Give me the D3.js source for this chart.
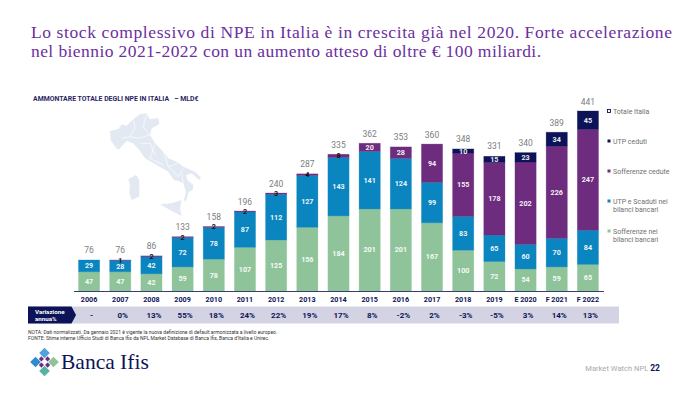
<!DOCTYPE html>
<html>
<head>
<meta charset="utf-8">
<script src="https://cdn.jsdelivr.net/npm/d3@7"></script>
<style>
	html, body {margin: 0; padding: 0; background: #fff;}
	svg {display: block;}
	text {font-family: Roboto, sans-serif;}
</style>
</head>
<body>
<div id="chart"></div>
<script>
//Data
var years = ['2006','2007','2008','2009','2010','2011','2012','2013','2014','2015','2016','2017','2018','2019','E 2020','F 2021','F 2022'];
var sofferenzeBilanci = [47,47,42,59,78,107,125,156,184,201,201,167,100,72,54,59,65];
var utpBilanci = [29,28,42,72,78,87,112,127,143,141,124,99,83,65,60,70,84];
var sofferenzeCedute = [0,1,2,2,2,2,3,4,8,20,28,94,155,178,202,226,247];
var utpCeduti = [0,0,0,0,0,0,0,0,0,0,0,0,10,15,23,34,45];
var totali = [76,76,86,133,158,196,240,287,335,362,353,360,348,331,340,389,441];
var variazione = ['-','0%','13%','55%','18%','24%','22%','19%','17%','8%','-2%','2%','-3%','-5%','3%','14%','13%'];

var seriesKeys = ['sofferenzeBilanci','utpBilanci','sofferenzeCedute','utpCeduti'];
var seriesValues = [sofferenzeBilanci,utpBilanci,sofferenzeCedute,utpCeduti];
var seriesColors = ['#8fc49b','#0a85bf','#6e2c7e','#0c1358'];

var NAVY = '#0c1358';
var GREY = '#7d7d7d';

var svg = d3.select('#chart').append('svg')
	.attr('width',700)
	.attr('height',400);

//Title (stretched to the widths of the two lines in the slide)
var titleLines = [
	{text: 'Lo stock complessivo di NPE in Italia è in crescita già nel 2020. Forte accelerazione', width: 641},
	{text: 'nel biennio 2021-2022 con un aumento atteso di oltre € 100 miliardi.', width: 510}
];
svg.selectAll('text.title')
	.data(titleLines)
	.enter().append('text')
		.attr('class','title')
		.attr('x',31)
		.attr('y',function(d,i){return 37.5+i*19.5;})
		.attr('textLength',function(d){return d.width;})
		.attr('lengthAdjust','spacing')
		.style('font-family','"Liberation Serif", serif')
		.style('font-size','17.5px')
		.attr('fill','#6b2fa0')
		.text(function(d){return d.text;});

svg.append('text')
	.attr('x',33)
	.attr('y',100.5)
	.style('font-size','6.9px')
	.style('font-weight','700')
	.style('white-space','pre')
	.attr('fill','#2b1f63')
	.text('AMMONTARE TOTALE DEGLI NPE IN ITALIA   – MLD€');

//Background map of Italy (decorative, traced by eye)
var map = svg.append('g')
	.attr('transform','translate(100,105) scale(0.3333)')
	.attr('fill','#e3e9f2');
map.append('path').attr('d','M30,78 L55,72 L65,58 L80,62 L100,42 L120,28 L140,25 L148,42 L175,40 L178,55 L170,62 L155,70 L150,90 L165,115 L190,140 L205,160 L230,170 L250,185 L285,200 L303,218 L298,225 L275,205 L258,210 L262,225 L280,240 L278,255 L265,262 L258,290 L252,285 L258,260 L250,235 L235,228 L222,225 L205,200 L170,180 L135,160 L118,135 L100,115 L80,108 L55,135 L45,125 L32,105 Z');
map.append('path').attr('d','M85,222 L108,210 L118,225 L118,275 L95,285 L88,265 L90,240 Z');
map.append('path').attr('d','M180,298 L215,295 L245,285 L240,310 L245,333 L215,318 Z');
map.append('path')
	.attr('d','M65,100 L90,95 L115,100 L150,90 M100,42 L105,70 L90,95 M140,25 L130,65 L150,90 M118,115 L150,115 L165,150 M165,115 L150,160 L190,180 M190,140 L205,185 L235,175 M205,185 L235,215 L250,190 M250,235 L245,205')
	.attr('fill','none')
	.attr('stroke','#f5f7fb')
	.attr('stroke-width',3);

//Scales
var baseline = 291;
var x = d3.scaleBand()
	.domain(years)
	.range([73.5,603.5])
	.paddingInner(0.32)
	.paddingOuter(0.16);
var y = d3.scaleLinear()
	.domain([0,441])
	.range([baseline,111]);

//Stacked bars
var rows = years.map(function(d,i) {
	var row = {year: d};
	seriesKeys.forEach(function(k,j){row[k] = seriesValues[j][i];});
	return row;
});
var stacked = d3.stack().keys(seriesKeys)(rows);

var layers = svg.selectAll('g.layer')
	.data(stacked)
	.enter().append('g')
		.attr('class','layer');
layers.selectAll('rect')
	.data(function(d){return d.map(function(p){return {p: p, key: d.key, index: d.index};});})
	.enter().filter(function(d){return d.p[1] > d.p[0];}).append('rect')
		.attr('x',function(d){return x(d.p.data.year);})
		.attr('y',function(d){return y(d.p[1]);})
		.attr('width',x.bandwidth())
		.attr('height',function(d){return y(d.p[0])-y(d.p[1]);})
		.attr('fill',function(d){return seriesColors[d.index];})
		.attr('stroke',function(d){return seriesColors[d.index];})
		.attr('stroke-opacity',0.4)
		.attr('stroke-width',0.7);

//Segment labels: tiny segments get a black label, the rest white
layers.selectAll('text')
	.data(function(d){return d.map(function(p){return {p: p, key: d.key};});})
	.enter().filter(function(d){return d.p[1] > d.p[0];}).append('text')
		.attr('x',function(d){return x(d.p.data.year)+x.bandwidth()/2;})
		.attr('y',function(d){return (y(d.p[0])+y(d.p[1]))/2+2.5;})
		.attr('text-anchor','middle')
		.style('font-size','7.2px')
		.style('font-weight','700')
		.attr('fill',function(d){return (d.p[1]-d.p[0]) < 10 ? '#111' : '#fff';})
		.attr('opacity',function(d){return (d.p[1]-d.p[0]) < 10 ? 1 : 0.92;})
		.text(function(d){return d.p[1]-d.p[0];});

//Totals
svg.selectAll('text.total')
	.data(totali)
	.enter().append('text')
		.attr('class','total')
		.attr('x',function(d,i){return x(years[i])+x.bandwidth()/2;})
		.attr('y',function(d){return y(d)-6.5;})
		.attr('text-anchor','middle')
		.style('font-size','8.5px')
		.attr('fill',GREY)
		.text(function(d){return d;});

//Axis
var axis = svg.append('g')
	.attr('transform','translate(0,'+baseline+')')
	.call(d3.axisBottom(x).tickSize(0).tickPadding(6));
axis.select('.domain').attr('stroke','#3a3f73').attr('stroke-width',1);
axis.selectAll('text')
	.style('font-family','Roboto, sans-serif')
	.style('font-size','7.2px')
	.style('font-weight','700')
	.attr('fill',NAVY);

//Variazione band
svg.append('rect')
	.attr('x',28)
	.attr('y',306.5)
	.attr('width',591)
	.attr('height',17)
	.attr('fill','#d3d3e3');
svg.append('path')
	.attr('d','M28,306.5 L71.5,306.5 L76,315 L71.5,323.5 L28,323.5 Z')
	.attr('fill',NAVY);
svg.selectAll('text.varLabel')
	.data(['Variazione','annua%'])
	.enter().append('text')
		.attr('class','varLabel')
		.attr('x',35)
		.attr('y',function(d,i){return 314+i*7;})
		.style('font-size','6.2px')
		.style('font-weight','700')
		.attr('fill','#fff')
		.text(function(d){return d;});
svg.selectAll('text.variazione')
	.data(variazione)
	.enter().append('text')
		.attr('class','variazione')
		.attr('x',function(d,i){return x(years[i])+x.bandwidth()/2+2.5;})
		.attr('y',317.7)
		.attr('text-anchor','middle')
		.style('font-size','8px')
		.style('font-weight','700')
		.attr('fill',NAVY)
		.text(function(d){return d;});

//Notes
svg.selectAll('text.note')
	.data([
		'NOTA: Dati normalizzati. Da gennaio 2021 è vigente la nuova definizione di default armonizzata a livello europeo.',
		'FONTE: Stime interne Ufficio Studi di Banca Ifis da NPL Market Database di Banca Ifis, Banca d\'Italia e Unirec.'
	])
	.enter().append('text')
		.attr('class','note')
		.attr('x',28)
		.attr('y',function(d,i){return 334.4+i*5.8;})
		.style('font-size','5px')
		.attr('fill','#333')
		.text(function(d){return d;});

//Legend
var legendItems = [
	{lines: ['Totale Italia'], y: 111, color: '#fff', stroke: NAVY},
	{lines: ['UTP ceduti'], y: 141, color: seriesColors[3]},
	{lines: ['Sofferenze cedute'], y: 171, color: seriesColors[2]},
	{lines: ['UTP e Scaduti nei','bilanci bancari'], y: 201, color: seriesColors[1]},
	{lines: ['Sofferenze nei','bilanci bancari'], y: 231, color: seriesColors[0]}
];
var legend = svg.selectAll('g.legend')
	.data(legendItems)
	.enter().append('g')
		.attr('class','legend')
		.attr('transform',function(d){return 'translate(607.5,'+d.y+')';});
legend.append('rect')
	.attr('x',0)
	.attr('y',-1.5)
	.attr('width',3)
	.attr('height',3)
	.attr('fill',function(d){return d.color;})
	.attr('stroke',function(d){return d.stroke || 'none';})
	.attr('stroke-width',0.9);
legend.selectAll('text')
	.data(function(d){return d.lines;})
	.enter().append('text')
		.attr('x',5.5)
		.attr('y',function(d,i){return 2.5+i*8;})
		.style('font-size','7px')
		.attr('fill','#6f6f6f')
		.text(function(d){return d;});

//Logo
var logo = svg.append('g').attr('transform','translate(44.5,362)');
var logoTiles = [
	{dx: 0, dy: -9, s: 7.5, c: '#4ea3dc'},
	{dx: -9, dy: 0, s: 7.5, c: '#2f8ccb'},
	{dx: 9, dy: 0, s: 7.5, c: '#8fc49b'},
	{dx: 0, dy: 9, s: 7.5, c: '#56b3a3'},
	{dx: -3.1, dy: -3.1, s: 3.6, c: '#6e2c7e'},
	{dx: 3.1, dy: -3.1, s: 3.6, c: '#6e2c7e'},
	{dx: -3.1, dy: 3.1, s: 3.6, c: '#6e2c7e'},
	{dx: 3.1, dy: 3.1, s: 3.6, c: '#6e2c7e'}
];
logo.selectAll('rect')
	.data(logoTiles)
	.enter().append('rect')
		.attr('x',function(d){return -d.s/2;})
		.attr('y',function(d){return -d.s/2;})
		.attr('width',function(d){return d.s;})
		.attr('height',function(d){return d.s;})
		.attr('fill',function(d){return d.c;})
		.attr('transform',function(d){return 'translate('+d.dx+','+d.dy+') rotate(45)';});
svg.append('text')
	.attr('x',61)
	.attr('y',368.5)
	.style('font-family','"Liberation Serif", serif')
	.style('font-size','21.5px')
	.attr('fill',NAVY)
	.text('Banca Ifis');

//Footer
var footer = svg.append('text')
	.attr('x',660)
	.attr('y',370.5)
	.attr('text-anchor','end')
	.style('font-size','7.6px')
	.attr('fill','#a8a8b0');
footer.append('tspan').text('Market Watch NPL ');
footer.append('tspan')
	.style('font-weight','700')
	.style('font-size','8.5px')
	.attr('fill',NAVY)
	.text('22');
</script>
</body>
</html>
